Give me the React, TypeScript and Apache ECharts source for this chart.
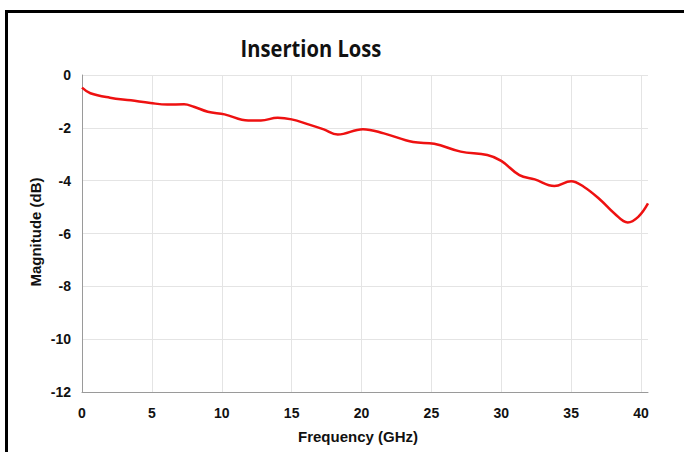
import React, { useEffect, useRef } from "react";
import * as echarts from "echarts";

const frequency = [0, 0.6, 2.0, 3.5, 4.9, 6.1, 7.3, 8.0, 9.0, 10.2, 11.9, 12.8, 14.0, 15.0, 16.2, 17.3, 18.3, 20.1, 21.6, 23.7, 25.2, 27.1, 29.0, 30.0, 31.3, 32.4, 33.8, 35.0, 35.9, 37.1, 38.1, 39.05, 39.8, 40.5];
const magnitude = [-0.48, -0.69, -0.86, -0.96, -1.06, -1.12, -1.11, -1.2, -1.39, -1.49, -1.72, -1.72, -1.62, -1.68, -1.87, -2.06, -2.25, -2.05, -2.21, -2.54, -2.6, -2.9, -3.03, -3.25, -3.79, -3.95, -4.2, -4.02, -4.23, -4.73, -5.24, -5.58, -5.37, -4.86];
const xTicks = [0, 5, 10, 15, 20, 25, 30, 35, 40];
const yTicks = [0, -2, -4, -6, -8, -10, -12];
const titleText = "Insertion Loss";
const xName = "Frequency (GHz)";
const yName = "Magnitude (dB)";

export default function App() {
  const ref = useRef<HTMLDivElement>(null);
  useEffect(() => {
    if (!ref.current) return;
    const chart = echarts.init(ref.current, undefined, { renderer: "svg" });
    const labelFont = { color: "#111", fontWeight: "bold" as const, fontSize: 14, fontFamily: "Liberation Sans, Arial, sans-serif" };
    const gridColor = "#e4e4e4";
    chart.setOption({
      animation: false,
      backgroundColor: "#fff",
      grid: { left: 82, right: 36, top: 75, bottom: 60, containLabel: false },
      graphic: [
        {
          type: "rect",
          shape: { x: 6.5, y: 11.5, width: 720, height: 500 },
          style: { fill: "none", stroke: "#000", lineWidth: 3 },
          silent: true,
        },
        {
          type: "text",
          x: 311,
          y: 47,
          scaleX: 0.84,
          style: {
            text: titleText,
            x: 0,
            y: 0,
            align: "center",
            verticalAlign: "middle",
            font: "bold 24px 'Open Sans', sans-serif",
            fill: "#111",
          },
        },
        {
          type: "text",
          x: 358,
          y: 436,
          style: {
            text: xName,
            x: 0,
            y: 0,
            align: "center",
            verticalAlign: "middle",
            font: "bold 15px 'Liberation Sans', Arial, sans-serif",
            fill: "#111",
          },
        },
        {
          type: "text",
          x: 35,
          y: 232,
          rotation: Math.PI / 2,
          style: {
            text: yName,
            x: 0,
            y: 0,
            align: "center",
            verticalAlign: "middle",
            font: "bold 15px 'Liberation Sans', Arial, sans-serif",
            fill: "#111",
          },
        },
      ],
      xAxis: {
        type: "value",
        min: 0,
        max: 40.5,
        interval: 5,
        axisLine: { show: true, onZero: false, lineStyle: { color: "#9a9a9a", width: 1 } },
        axisTick: { show: false },
        axisLabel: {
          ...labelFont,
          margin: 14,
          formatter: (v: number) => (xTicks.includes(v) ? String(v) : ""),
        },
        splitLine: { show: false },
      },
      yAxis: {
        type: "value",
        min: -12,
        max: 0,
        interval: 2,
        axisLine: { show: true, onZero: false, lineStyle: { color: "#9a9a9a", width: 1 } },
        axisTick: { show: false },
        axisLabel: {
          ...labelFont,
          margin: 11,
          formatter: (v: number) => (yTicks.includes(v) ? String(v) : ""),
        },
        splitLine: { show: true, lineStyle: { color: gridColor, width: 1 } },
      },
      series: [
        {
          type: "line",
          data: frequency.map((f, i) => [f, magnitude[i]]),
          smooth: 0.4,
          showSymbol: false,
          lineStyle: { color: "#ee1111", width: 2.5 },
          z: 3,
          markLine: {
            silent: true,
            symbol: "none",
            label: { show: false },
            lineStyle: { color: gridColor, width: 1, type: "solid" },
            data: xTicks.filter((t) => t > 0).map((t) => ({ xAxis: t })),
            z: 1,
          },
        },
      ],
    });
    return () => chart.dispose();
  }, []);
  return (
    <div style={{ position: "fixed", left: 0, top: 0, width: 684, height: 452, background: "#fff" }}>
      <div ref={ref} style={{ width: 684, height: 452 }} />
    </div>
  );
}
